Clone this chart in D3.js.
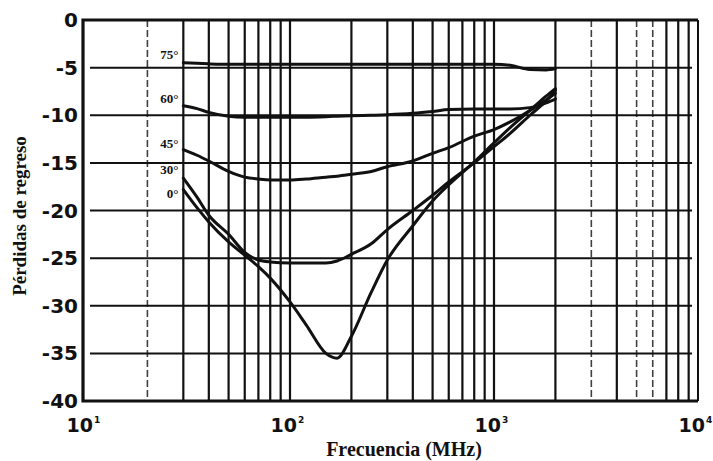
<!DOCTYPE html>
<html>
<head>
<meta charset="utf-8">
<script src="https://cdn.jsdelivr.net/npm/d3@7"></script>
<style>
  html, body { margin: 0; padding: 0; background: #fff; }
  svg { display: block; }
</style>
</head>
<body>
<script>
// Return loss vs frequency for several incidence angles
const freqs = [30, 35, 40, 50, 60, 70, 80, 100, 120, 150, 170, 200, 250, 300, 400, 500, 600, 800, 1000, 1200, 1500, 1800, 2000];

const deg75 = [-4.5, -4.55, -4.6, -4.65, -4.65, -4.65, -4.65, -4.65, -4.65, -4.65, -4.65, -4.65, -4.65, -4.65, -4.65, -4.65, -4.65, -4.65, -4.65, -4.75, -5.2, -5.25, -5.1];
const deg60 = [-9.0, -9.3, -9.7, -10.1, -10.2, -10.2, -10.2, -10.2, -10.2, -10.15, -10.1, -10.05, -10.0, -9.95, -9.8, -9.6, -9.4, -9.35, -9.35, -9.35, -9.2, -8.7, -8.3];
const deg45 = [-13.6, -14.2, -14.8, -15.9, -16.5, -16.7, -16.8, -16.8, -16.7, -16.5, -16.4, -16.2, -15.9, -15.4, -14.8, -14.0, -13.4, -12.2, -11.5, -10.7, -9.5, -8.4, -7.7];
const deg30 = [-16.6, -18.6, -20.5, -22.5, -24.4, -25.2, -25.4, -25.5, -25.5, -25.5, -25.3, -24.6, -23.5, -22.0, -20.0, -18.4, -17.0, -15.0, -13.3, -11.9, -10.0, -8.5, -7.4];
const deg0  = [-17.8, -19.7, -21.2, -23.3, -24.7, -25.9, -27.1, -29.6, -32.0, -35.0, -35.5, -33.2, -28.6, -25.2, -21.6, -19.0, -17.3, -14.9, -12.9, -11.3, -9.5, -8.0, -7.2];

const seriesNames = ["75°", "60°", "45°", "30°", "0°"];
const seriesValues = [deg75, deg60, deg45, deg30, deg0];

const yTicks = [0, -5, -10, -15, -20, -25, -30, -35, -40];
const xExponents = [1, 2, 3, 4];
const supDigits = {1: "1", 2: "2", 3: "3", 4: "4"};

const xTitle = "Frecuencia (MHz)";
const yTitle = "Pérdidas de regreso";

const W = 713, H = 461;
const x = d3.scaleLog().domain([10, 1e4]).range([86, 698]);
const y = d3.scaleLinear().domain([0, -40]).range([20, 401]);

const svg = d3.select("body").append("svg").attr("width", W).attr("height", H);
const ink = "#111";

// vertical grid: every 1-2-…-9 step inside the decades, skipping the frame edges
const gridF = x.ticks().filter(f => f > 10 && f < 1e4);
const dashedF = new Set([20, 3000, 5000, 6000]);
svg.append("g").selectAll("line").data(gridF).join("line")
  .attr("x1", d => x(d)).attr("x2", d => x(d))
  .attr("y1", y(0)).attr("y2", y(-40))
  .attr("stroke", ink)
  .attr("stroke-width", d => dashedF.has(d) ? 1.6 : 2.2)
  .attr("stroke-dasharray", d => dashedF.has(d) ? "7,3" : null)
  .attr("opacity", d => dashedF.has(d) ? 0.8 : 1);

// horizontal grid
svg.append("g").selectAll("line").data(yTicks.filter(v => v < 0 && v > -40)).join("line")
  .attr("x1", x(10) + 4).attr("x2", x(1e4) - 6)
  .attr("y1", d => y(d)).attr("y2", d => y(d))
  .attr("stroke", ink).attr("stroke-width", 2);

// frame
const fl = x(10) - 3, fr = x(1e4), ft = y(0), fb = y(-40);
svg.append("path")
  .attr("d", `M${fr},${ft}L${fl},${ft}L${fl},${fb}L${fr},${fb}`)
  .attr("fill", "none").attr("stroke", ink).attr("stroke-width", 3.2);
svg.append("line").attr("x1", fr).attr("x2", fr).attr("y1", ft).attr("y2", fb)
  .attr("stroke", ink).attr("stroke-width", 2);

// curves
const line = d3.line()
  .x(d => x(d[0])).y(d => y(d[1]))
  .curve(d3.curveMonotoneX);
svg.append("g").selectAll("path").data(seriesValues).join("path")
  .attr("d", vals => line(freqs.map((f, i) => [f, vals[i]])))
  .attr("fill", "none").attr("stroke", ink).attr("stroke-width", 3)
  .attr("stroke-linejoin", "round").attr("stroke-linecap", "round");

// angle labels next to the start of each curve
const labelDy = [-4, -3, -2, -4, 8];
svg.append("g").selectAll("text").data(seriesNames).join("text")
  .attr("x", x(freqs[0]) - 5)
  .attr("y", (d, i) => y(seriesValues[i][0]) + labelDy[i])
  .attr("text-anchor", "end")
  .attr("font-family", "'Liberation Serif', serif")
  .attr("font-weight", "bold").attr("font-size", 13)
  .attr("fill", ink)
  .text(d => d);

// y tick labels
svg.append("g").selectAll("text").data(yTicks).join("text")
  .attr("x", 78).attr("y", d => y(d) + 7)
  .attr("text-anchor", "end")
  .attr("font-family", "'DejaVu Sans', sans-serif")
  .attr("font-weight", "bold").attr("font-size", 20)
  .attr("fill", ink)
  .text(d => String(d));

// x tick labels: 10 with superscript exponent
const xl = svg.append("g").selectAll("g").data(xExponents).join("g")
  .attr("transform", d => `translate(${x(Math.pow(10, d))},432)`);
xl.append("text")
  .attr("x", 7).attr("text-anchor", "end")
  .attr("font-family", "'DejaVu Sans', sans-serif")
  .attr("font-weight", "bold").attr("font-size", 19)
  .attr("fill", ink).text("10");
xl.append("text")
  .attr("x", 8).attr("y", -9)
  .attr("font-family", "'DejaVu Sans', sans-serif")
  .attr("font-weight", "bold").attr("font-size", 9)
  .attr("fill", ink).text(d => supDigits[d]);

// axis titles
svg.append("text")
  .attr("x", 404).attr("y", 456)
  .attr("text-anchor", "middle")
  .attr("font-family", "'Liberation Serif', serif")
  .attr("font-weight", "bold").attr("font-size", 20)
  .attr("fill", ink).text(xTitle);

svg.append("text")
  .attr("transform", "translate(26,216) rotate(-90)")
  .attr("text-anchor", "middle")
  .attr("font-family", "'Liberation Serif', serif")
  .attr("font-weight", "bold").attr("font-size", 19)
  .attr("fill", ink).text(yTitle);
</script>
</body>
</html>
